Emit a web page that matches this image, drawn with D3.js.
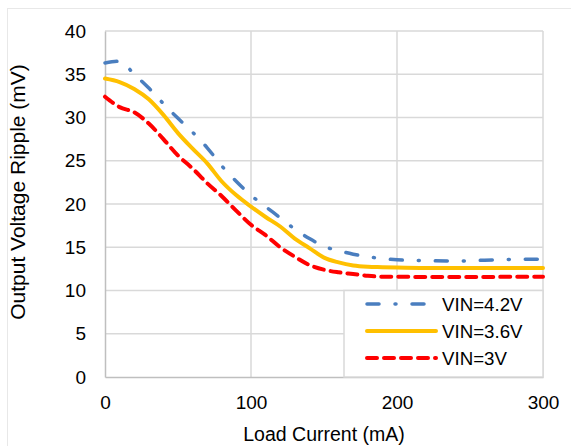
<!DOCTYPE html>
<html>
<head>
<meta charset="utf-8">
<script src="https://cdn.jsdelivr.net/npm/d3@7"></script>
<style>
  body { margin: 0; background: #fff; }
  svg text { font-family: "Liberation Sans", Arial, sans-serif; fill: #000; }
</style>
</head>
<body>
<div id="chart"></div>
<script>
// Data
var current = [0, 10, 20, 30, 40, 50, 60, 70, 80, 90, 100, 110, 120, 130, 140, 150,
               160, 170, 180, 190, 200, 220, 240, 260, 280, 300];
var vin42 = [36.3, 36.5, 35.0, 33.4, 31.6, 29.9, 28.3, 26.5, 24.4, 22.6, 21.0, 19.7, 18.4,
             17.1, 16.0, 15.1, 14.6, 14.2, 13.9, 13.7, 13.55, 13.45, 13.4, 13.5, 13.6, 13.6];
var vin36 = [34.5, 34.1, 33.3, 32.1, 30.3, 28.2, 26.4, 24.7, 22.6, 21.0, 19.7, 18.5, 17.4,
             16.0, 14.9, 13.8, 13.25, 12.9, 12.75, 12.7, 12.65, 12.6, 12.6, 12.6, 12.6, 12.6];
var vin30 = [32.4, 31.2, 30.6, 29.3, 27.5, 25.6, 24.1, 22.4, 20.9, 19.2, 17.6, 16.4, 15.0,
             13.9, 12.95, 12.4, 12.1, 11.9, 11.7, 11.6, 11.6, 11.55, 11.55, 11.55, 11.6, 11.6];
var seriesNames = ["VIN=4.2V", "VIN=3.6V", "VIN=3V"];
var xTicks = [0, 100, 200, 300];
var yTicks = [0, 5, 10, 15, 20, 25, 30, 35, 40];

var width = 571, height = 446;
var margin = { top: 31, right: 28, bottom: 69, left: 105 };
var w = width - margin.left - margin.right,
    h = height - margin.top - margin.bottom;

var svg = d3.select("#chart").append("svg")
  .attr("width", width)
  .attr("height", height);

// outer chart frame
svg.append("rect")
  .attr("x", 7.5).attr("y", 8.5)
  .attr("width", 600).attr("height", 500)
  .attr("fill", "none").attr("stroke", "#e8e8e8");

var g = svg.append("g")
  .attr("transform", "translate(" + margin.left + "," + margin.top + ")");

var xScale = d3.scaleLinear().domain([0, 300]).range([0, w]);
var yScale = d3.scaleLinear().domain([0, 40]).range([h, 0]);

// gridlines
g.append("g").selectAll("line.h")
  .data(yTicks.slice(1))
  .enter().append("line")
  .attr("x1", 0).attr("x2", w)
  .attr("y1", function(d) { return yScale(d); })
  .attr("y2", function(d) { return yScale(d); })
  .attr("stroke", "#d9d9d9").attr("stroke-width", 1.5);

g.append("g").selectAll("line.v")
  .data(xTicks.slice(1))
  .enter().append("line")
  .attr("y1", 0).attr("y2", h)
  .attr("x1", function(d) { return xScale(d); })
  .attr("x2", function(d) { return xScale(d); })
  .attr("stroke", "#d9d9d9").attr("stroke-width", 1.5);

// axes
var xAxis = d3.axisBottom(xScale).tickValues(xTicks).tickSize(0).tickPadding(19);
var yAxis = d3.axisLeft(yScale).tickValues(yTicks).tickSize(0).tickPadding(19);

var gx = g.append("g").attr("transform", "translate(0," + h + ")").call(xAxis);
var gy = g.append("g").call(yAxis);
[gx, gy].forEach(function(a) {
  a.select(".domain").attr("stroke", "#bfbfbf").attr("stroke-width", 1.5);
  a.selectAll("text").style("font-size", "19px");
});

// lines
var line = d3.line()
  .curve(d3.curveMonotoneX)
  .x(function(d) { return xScale(d[0]); })
  .y(function(d) { return yScale(d[1]); });

var styles = [
  { color: "#4a7ebf", width: 3.5, dash: "12,16,1,16" },
  { color: "#ffc000", width: 4, dash: null },
  { color: "#ff0000", width: 4, dash: "10,7" }
];
var values = [vin42, vin36, vin30];

values.forEach(function(vals, i) {
  var pts = current.map(function(c, j) { return [c, vals[j]]; });
  g.append("path")
    .attr("d", line(pts))
    .attr("fill", "none")
    .attr("stroke", styles[i].color)
    .attr("stroke-width", styles[i].width)
    .attr("stroke-linecap", "round")
    .attr("stroke-dasharray", styles[i].dash);
});

// legend
var lg = svg.append("g");
lg.append("rect")
  .attr("x", 344).attr("y", 290.5)
  .attr("width", 199).attr("height", 86.5)
  .attr("fill", "#fff").attr("stroke", "#d9d9d9").attr("stroke-width", 1.5);

seriesNames.forEach(function(name, i) {
  var y = 304 + i * 27;
  lg.append("line")
    .attr("x1", 367).attr("x2", 436)
    .attr("y1", y).attr("y2", y)
    .attr("stroke", styles[i].color)
    .attr("stroke-width", styles[i].width)
    .attr("stroke-linecap", "round")
    .attr("stroke-dasharray", styles[i].dash);
  lg.append("text")
    .attr("x", 442).attr("y", y)
    .attr("dy", "0.36em")
    .style("font-size", "18.7px")
    .text(name);
});

// axis titles
svg.append("text")
  .attr("x", margin.left + w / 2).attr("y", 441)
  .attr("text-anchor", "middle")
  .style("font-size", "19.5px")
  .text("Load Current (mA)");

svg.append("text")
  .attr("transform", "translate(25," + (margin.top + h / 2 - 12) + ") rotate(-90)")
  .attr("text-anchor", "middle")
  .style("font-size", "21px")
  .text("Output Voltage Ripple (mV)");
</script>
</body>
</html>
